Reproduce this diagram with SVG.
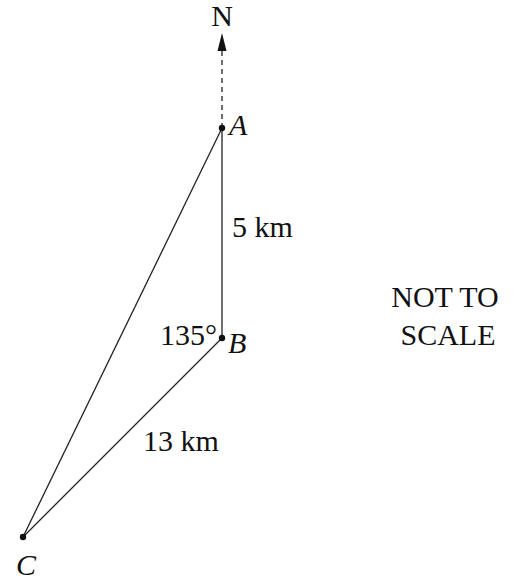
<svg xmlns="http://www.w3.org/2000/svg" width="514" height="584" viewBox="0 0 514 584">
<style>
text{font-family:"Liberation Serif","Times New Roman",serif;font-size:30px;fill:#111}
.i{font-style:italic}
.l{stroke:#222;stroke-width:1.3;fill:none}
</style>
<rect width="514" height="584" fill="#fff"/>
<g id="connectors">
<line class="l" x1="222" y1="128" x2="222" y2="50" stroke-dasharray="5,4"/>
<polygon points="222,33 217.5,51 226.5,51" fill="#111"/>
<line class="l" x1="222" y1="128" x2="222" y2="338"/>
<line class="l" x1="222" y1="338" x2="23" y2="537"/>
<line class="l" x1="222" y1="128" x2="23" y2="537"/>
</g>
<g id="N"><text x="222" y="26" text-anchor="middle">N</text></g>
<g id="A"><circle cx="222" cy="128" r="3.2" fill="#111"/><text class="i" x="229" y="135">A</text></g>
<g id="B"><circle cx="222" cy="338" r="3.2" fill="#111"/><text class="i" x="228" y="353">B</text><text x="217" y="345" text-anchor="end">135°</text></g>
<g id="C"><circle cx="23" cy="537" r="3.2" fill="#111"/><text class="i" x="16" y="575">C</text></g>
<g id="labels">
<text x="232" y="237">5 km</text>
<text x="143" y="451">13 km</text>
<text x="445" y="307" text-anchor="middle">NOT TO</text>
<text x="448" y="345" text-anchor="middle">SCALE</text>
</g>
</svg>
